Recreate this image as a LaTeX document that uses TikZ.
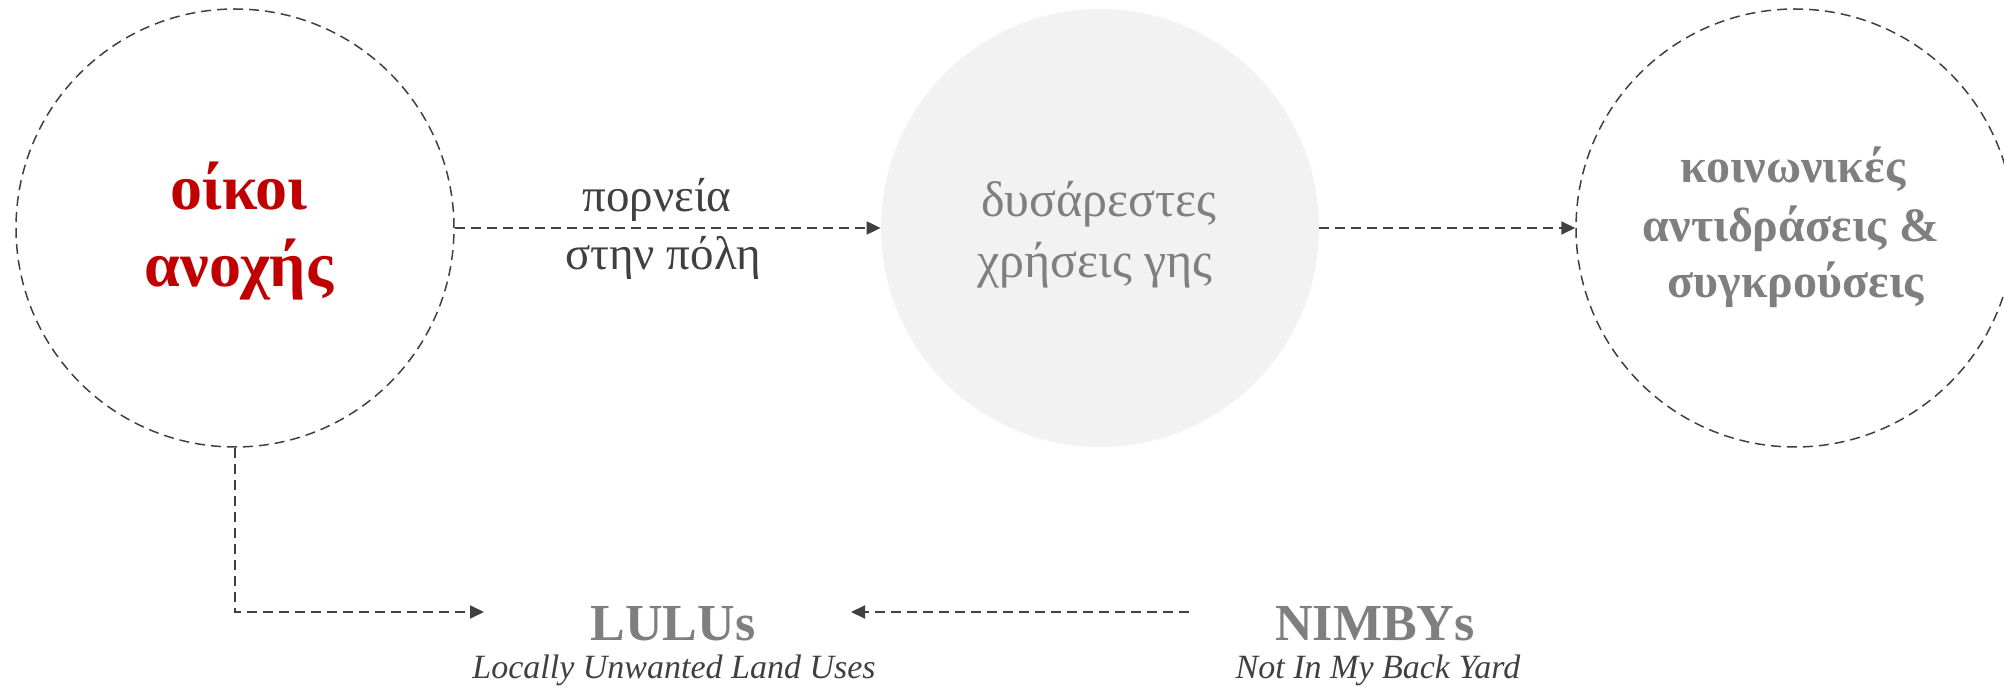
\documentclass[tikz,border=0pt]{standalone}
\usepackage{fontspec}
\setmainfont{Liberation Serif}
\usetikzlibrary{arrows.meta}
\definecolor{dred}{HTML}{C00000}
\definecolor{tgray}{HTML}{7F7F7F}
\definecolor{lgray}{HTML}{404040}
\definecolor{cfill}{HTML}{F2F2F2}
\tikzset{
  dcircle/.style={circle, draw=lgray, line width=0.75pt, dash pattern=on 5pt off 3pt, minimum size=438pt*0.5, inner sep=0pt},
  fcircle/.style={circle, fill=cfill, minimum size=438pt*0.5, inner sep=0pt},
  conn/.style={draw=lgray, line width=1pt, dash pattern=on 5pt off 3pt, -{Triangle[length=7pt,width=6.5pt]}},
  redtxt/.style={anchor=base, text=dred, font=\bfseries\fontsize{32}{38}\selectfont, inner sep=0pt},
  midtxt/.style={anchor=base, text=tgray, font=\fontsize{25}{30}\selectfont, inner sep=0pt},
  rtxt/.style={anchor=base, text=tgray, font=\bfseries\fontsize{24}{28}\selectfont, inner sep=0pt},
  lbltxt/.style={anchor=base, text=lgray, font=\fontsize{23.5}{28}\selectfont, inner sep=0pt},
  acrtxt/.style={anchor=base, text=tgray, font=\bfseries\fontsize{26}{30}\selectfont, inner sep=0pt},
  subtxt/.style={anchor=base, text=lgray, font=\itshape\fontsize{17}{20}\selectfont, inner sep=0pt}
}
\begin{document}
\begin{tikzpicture}[x=0.5pt,y=-0.5pt]
\useasboundingbox (0,0) rectangle (2004,694);
\clip (0,0) rectangle (2004,694);
% circles
\node[dcircle] (c1) at (235,228) {};
\node[fcircle] (c2) at (1100,228) {};
\node[dcircle] (c3) at (1795,228) {};
% circle texts
\node[redtxt] (t1a) at (239,210) {οίκοι};
\node[redtxt] (t1b) at (239,287) {ανοχής};
\node[midtxt] (t2a) at (1099,217) {δυσάρεστες};
\node[midtxt] (t2b) at (1095,278) {χρήσεις γης};
\node[rtxt] (t3a) at (1793,183) {κοινωνικές};
\node[rtxt] (t3b) at (1791,242) {αντιδράσεις \&};
\node[rtxt] (t3c) at (1796,298) {συγκρούσεις};
% arrow labels
\node[lbltxt] (l1) at (657,212) {πορνεία};
\node[lbltxt] (l2) at (663,270) {στην πόλη};
% bottom labels
\node[acrtxt] (lulu) at (673,641) {LULUs};
\node[subtxt] (lulus) at (674,679) {Locally Unwanted Land Uses};
\node[acrtxt] (nimby) at (1375,641) {NIMBYs};
\node[subtxt] (nimbys) at (1378,679) {Not In My Back Yard};
% connector ends
\coordinate (luluin) at (484,612);
\coordinate (nimbyout) at (1189,612);
\coordinate (luluright) at (851,612);
% connectors
\draw[conn] (c1.east) -- (c2.west);
\draw[conn] (c2.east) -- (c3.west);
\draw[conn] (c1.south) |- (luluin);
\draw[conn] (nimbyout) -- (luluright);
\end{tikzpicture}
\end{document}
